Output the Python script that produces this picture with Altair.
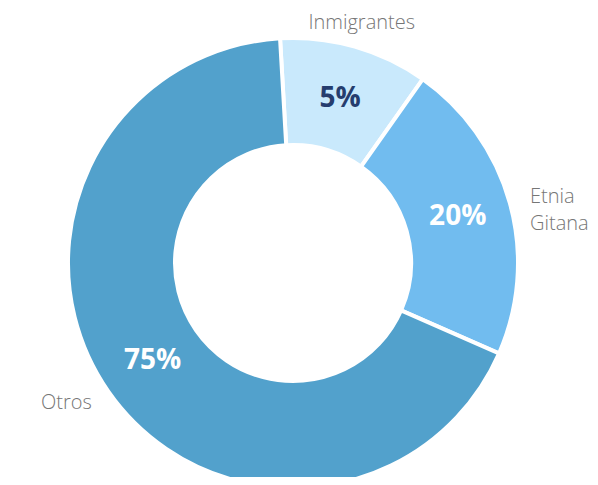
import math
import altair as alt
import pandas as pd

categories = ["Inmigrantes", "Etnia Gitana", "Otros"]
# angular share (percent of circle)
slice_values = [10.7, 21.8, 67.5]
# percentage labels printed in the chart
pct_labels = ["5%", "20%", "75%"]
outer_labels = ["Inmigrantes", "Etnia\nGitana", "Otros"]

df = pd.DataFrame({
    "cat": categories,
    "value": slice_values,
    "pct": pct_labels,
    "outer": outer_labels,
    "order": list(range(len(categories))),
})

colors = ["#C9E9FC", "#71BCEF", "#52A1CC"]
start = math.radians(-3.3)

CX, CY = 285, 255

theta = alt.Theta("value:Q", stack=True,
                  scale=alt.Scale(range=[start, start + 2 * math.pi]))
order = alt.Order("order:Q")

base = alt.Chart(df)

arcs = base.mark_arc(outerRadius=225, innerRadius=118, stroke="white",
                     strokeWidth=4).encode(
    theta=theta,
    order=order,
    x=alt.value(CX),
    y=alt.value(CY),
    color=alt.Color("cat:N", scale=alt.Scale(domain=categories, range=colors),
                    legend=None),
)

inner = base.mark_text(radius=171, fontSize=28, fontWeight="bold",
                       font="Open Sans").encode(
    theta=theta,
    order=order,
    x=alt.value(CX),
    y=alt.value(CY),
    text="pct:N",
    color=alt.condition(alt.datum.cat == "Inmigrantes",
                        alt.value("#253D6E"), alt.value("white")),
)

layers = [arcs, inner]
styles = {
    "Inmigrantes": dict(align="center", radius=250),
    "Etnia Gitana": dict(align="left", radius=246),
    "Otros": dict(align="right", radius=245),
}
for c in categories:
    st = styles[c]
    layers.append(
        base.mark_text(radius=st["radius"], align=st["align"], baseline="middle",
                       fontSize=20, fontWeight=300, font="Open Sans",
                       color="#767676", lineBreak="\n", lineHeight=27).encode(
            theta=theta,
            order=order,
            x=alt.value(CX),
            y=alt.value(CY),
            text=alt.condition(alt.datum.cat == c, "outer:N", alt.value("")),
        )
    )

chart = alt.layer(*layers).properties(
    width=582, height=469, padding=0, autosize=alt.AutoSizeParams(type="none")
).configure_view(stroke=None)

chart.save("out.html", embed_options={"renderer": "svg", "actions": False})
